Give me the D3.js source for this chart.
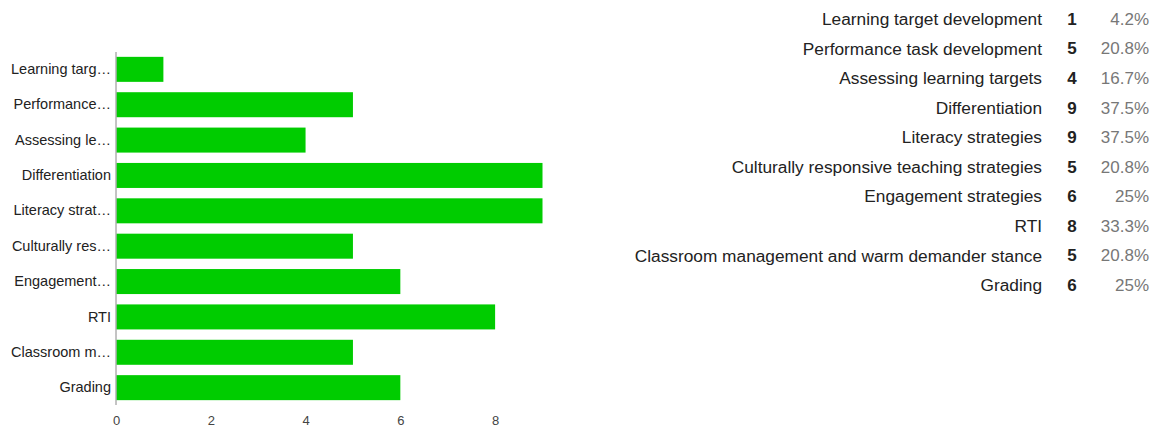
<!DOCTYPE html>
<html>
<head>
<meta charset="utf-8">
<script src="https://cdn.jsdelivr.net/npm/d3@7"></script>
<style>
  html, body { margin: 0; padding: 0; background: #fff; }
  svg { display: block; font-family: "Liberation Sans", Arial, sans-serif; }
</style>
</head>
<body>
<svg id="chart" width="1153" height="430"></svg>
<script>
// Survey responses: professional development topics
const categories = [
  "Learning target development",
  "Performance task development",
  "Assessing learning targets",
  "Differentiation",
  "Literacy strategies",
  "Culturally responsive teaching strategies",
  "Engagement strategies",
  "RTI",
  "Classroom management and warm demander stance",
  "Grading"
];
const axisLabels = [
  "Learning targ…", "Performance…", "Assessing le…", "Differentiation",
  "Literacy strat…", "Culturally res…", "Engagement…", "RTI",
  "Classroom m…", "Grading"
];
const counts = [1, 5, 4, 9, 9, 5, 6, 8, 5, 6];
const percents = ["4.2%", "20.8%", "16.7%", "37.5%", "37.5%", "20.8%", "25%", "33.3%", "20.8%", "25%"];
const xTicks = [0, 2, 4, 6, 8];

const svg = d3.select("#chart");

// ---- bar chart ----
const x = d3.scaleLinear().domain([0, 9]).range([116, 542.5]);
const y = d3.scaleBand().domain(categories).range([52, 405]).paddingInner(0.293).paddingOuter(0.137);

const labelOf = new Map(categories.map((c, i) => [c, axisLabels[i]]));

svg.append("g")
  .selectAll("rect")
  .data(categories)
  .join("rect")
  .attr("x", x(0) + 0.5)
  .attr("y", d => y(d))
  .attr("width", (d, i) => x(counts[i]) - x(0) - 0.5)
  .attr("height", y.bandwidth())
  .attr("fill", "#00cc00");

// category axis
const yAxis = svg.append("g")
  .attr("transform", `translate(${x(0)},0)`)
  .call(d3.axisLeft(y).tickSize(0).tickPadding(5).tickFormat(d => labelOf.get(d)));
yAxis.select(".domain").attr("stroke", "#888").attr("d", "M0,52V405");
yAxis.selectAll("text")
  .attr("fill", "#222")
  .style("font-size", "14.5px");

// value axis (labels only)
const xAxis = svg.append("g")
  .attr("transform", "translate(0,405)")
  .call(d3.axisBottom(x).tickValues(xTicks).tickSize(0).tickPadding(11).tickFormat(d3.format("d")));
xAxis.select(".domain").remove();
xAxis.selectAll("text")
  .attr("fill", "#444")
  .style("font-size", "13px");

// ---- summary table ----
const row = d3.scaleBand().domain(categories).range([4.2, 299.8]);
const table = svg.append("g").selectAll("g")
  .data(categories)
  .join("g")
  .attr("transform", d => `translate(0,${row(d) + row.bandwidth() / 2})`);

table.append("text")
  .attr("x", 1042)
  .attr("dy", "0.35em")
  .attr("text-anchor", "end")
  .attr("fill", "#222")
  .style("font-size", "17.3px")
  .text(d => d);

table.append("text")
  .attr("x", 1072)
  .attr("dy", "0.35em")
  .attr("text-anchor", "middle")
  .attr("fill", "#222")
  .attr("font-weight", "bold")
  .style("font-size", "17px")
  .text((d, i) => counts[i]);

table.append("text")
  .attr("x", 1149)
  .attr("dy", "0.35em")
  .attr("text-anchor", "end")
  .attr("fill", "#777")
  .style("font-size", "17px")
  .text((d, i) => percents[i]);
</script>
</body>
</html>
